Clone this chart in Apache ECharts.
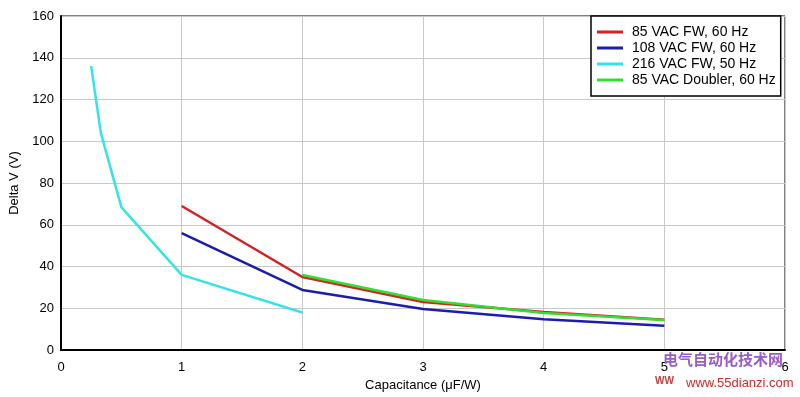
<!DOCTYPE html>
<html>
<head>
<meta charset="utf-8">
<script src="https://cdn.jsdelivr.net/npm/echarts@6/dist/echarts.min.js"></script>
<style>
    html, body {margin: 0; padding: 0; background: #fff;}
    #chart {width: 800px; height: 397px;}
</style>
</head>
<body>
<div id="chart"></div>
<script>
// series names
const seriesNames = ['85 VAC FW, 60 Hz', '108 VAC FW, 60 Hz', '216 VAC FW, 50 Hz', '85 VAC Doubler, 60 Hz'];

// [capacitance uF/W, delta V]
const fw85 = [[1, 69], [2, 35], [3, 23], [4, 18.2], [5, 14.5]];
const fw108 = [[1, 56], [2, 28.8], [3, 19.7], [4, 14.8], [5, 11.7]];
const fw216 = [[0.25, 136], [0.33, 104], [0.5, 68.5], [1, 36], [2, 18]];
const doubler85 = [[2, 36], [3, 24], [4, 17.8], [5, 14.4]];

const seriesColors = ['#d42222', '#1c1cb0', '#35e3e8', '#33dd33'];

const chart = echarts.init(document.getElementById('chart'));

function lineSeries(idx, data) {
    return {
        name: seriesNames[idx],
        type: 'line',
        data: data,
        symbol: 'none',
        lineStyle: {color: seriesColors[idx], width: 2.5},
        itemStyle: {color: seriesColors[idx]},
        animation: false,
    };
}

chart.setOption({
    textStyle: {fontFamily: 'Liberation Sans, Arial, sans-serif'},
    grid: {
        left: 58,
        right: 15,
        top: 16,
        bottom: 45,
        show: true,
        borderColor: '#000',
        borderWidth: 1,
    },
    legend: {
        orient: 'vertical',
        left: 591,
        top: 16,
        padding: [9, 5, 9, 6],
        itemGap: 2,
        itemWidth: 26,
        itemHeight: 3,
        icon: 'rect',
        backgroundColor: '#fff',
        borderColor: '#000',
        borderWidth: 1.5,
        textStyle: {color: '#000', fontSize: 14, lineHeight: 14, padding: [0, 0, 0, 4]},
        data: seriesNames,
    },
    xAxis: {
        type: 'value',
        min: 0,
        max: 6,
        interval: 1,
        name: 'Capacitance (\u03bcF/W)',
        nameLocation: 'middle',
        nameGap: 25,
        nameTextStyle: {color: '#000', fontSize: 13},
        axisLine: {lineStyle: {color: '#000', width: 2}},
        axisTick: {show: false},
        axisLabel: {color: '#000', fontSize: 13, margin: 11},
        splitLine: {lineStyle: {color: '#c8c8c8', width: 1}},
    },
    yAxis: {
        type: 'value',
        min: 0,
        max: 160,
        interval: 20,
        name: 'Delta V (V)',
        nameLocation: 'middle',
        nameGap: 40,
        nameTextStyle: {color: '#000', fontSize: 13},
        axisLine: {show: true, lineStyle: {color: '#000', width: 2}},
        axisTick: {show: false},
        axisLabel: {color: '#000', fontSize: 13, margin: 7},
        splitLine: {lineStyle: {color: '#c8c8c8', width: 1}},
    },
    series: [
        lineSeries(0, fw85),
        lineSeries(1, fw108),
        lineSeries(2, fw216),
        lineSeries(3, doubler85),
    ],
    graphic: [
        {
            type: 'text',
            left: 663,
            top: 352,
            z: 100,
            style: {
                text: '电气自动化技术网',
                fill: '#9a5cc8',
                font: 'bold 15px "Noto Sans CJK SC", sans-serif',
            },
        },
        {
            type: 'text',
            left: 655,
            top: 376,
            z: 100,
            style: {
                text: 'WW',
                fill: '#c04040',
                font: 'bold 10px "Liberation Sans", sans-serif',
            },
        },
        {
            type: 'text',
            left: 686,
            top: 377,
            z: 100,
            style: {
                text: 'www.55dianzi.com',
                fill: '#d02a2a',
                font: '13px "Liberation Sans", sans-serif',
            },
        },
    ],
});
</script>
</body>
</html>
